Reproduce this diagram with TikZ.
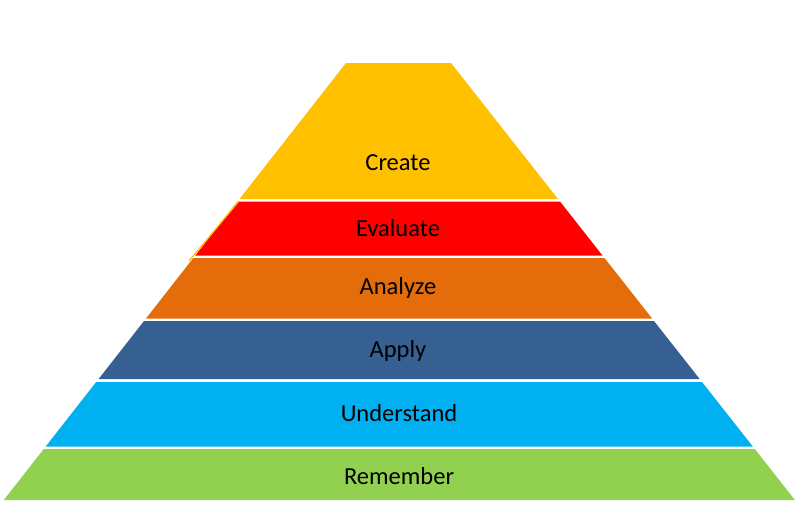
\documentclass[tikz,border=0pt]{standalone}
\usepackage{fontspec}
\setmainfont{Carlito}
\definecolor{ccreate}{HTML}{FFC000}
\definecolor{cevaluate}{HTML}{FF0000}
\definecolor{canalyze}{HTML}{E46C0A}
\definecolor{capply}{HTML}{376092}
\definecolor{cunderstand}{HTML}{00B0F0}
\definecolor{cremember}{HTML}{92D050}
\begin{document}
\begin{tikzpicture}[x=1pt,y=-1pt,
  lbl/.style={anchor=base,inner sep=0pt,text=black,font=\fontsize{24.5}{28}\selectfont}]
\useasboundingbox (0,0) rectangle (800,504);
% bands: xL(y)=346-0.783(y-63), xR(y)=451+0.787(y-63)
\fill[ccreate] (346,63) -- (451,63) -- (558,199) -- (239.5,199) -- cycle;
\fill[cevaluate] (237.6,201.5) -- (560,201.5) -- (602.5,255.5) -- (195.3,255.5) -- cycle;
\fill[canalyze] (193.3,258) -- (604.5,258) -- (652.1,318.5) -- (146,318.5) -- cycle;
\fill[capply] (144,321) -- (654,321) -- (699.7,379) -- (98.6,379) -- cycle;
\fill[cunderstand] (96.2,382) -- (702,382) -- (752.8,446.5) -- (45.7,446.5) -- cycle;
\fill[cremember] (43.8,449) -- (754.8,449) -- (794.9,500) -- (3.8,500) -- cycle;
\draw[ccreate,line width=1.3pt] (239,201) -- (189,261);
\node[lbl] (create) at (398,170) {Create};
\node[lbl] (evaluate) at (398,236) {Evaluate};
\node[lbl] (analyze) at (398,294.5) {Analyze};
\node[lbl] (apply) at (398,357.5) {Apply};
\node[lbl] (understand) at (399,421) {Understand};
\node[lbl] (remember) at (399,484) {Remember};
\end{tikzpicture}
\end{document}
